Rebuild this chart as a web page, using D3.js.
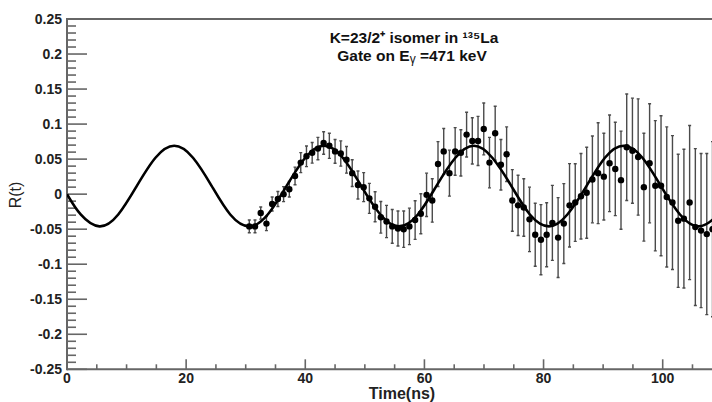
<!DOCTYPE html>
<html><head><meta charset="utf-8">
<script src="https://cdn.jsdelivr.net/npm/d3@7"></script>
<style>
html,body{margin:0;padding:0;background:#fff;}
svg{display:block;}
text{font-family:"Liberation Sans",Arial,sans-serif;}
</style></head>
<body>
<svg id="c" width="712" height="402"></svg>
<script>
// ---- data ----
const times = [30.60,31.56,32.52,33.48,34.44,35.40,36.36,37.32,38.28,39.24,40.20,41.16,42.12,43.08,44.04,45.00,45.96,46.92,47.88,48.84,49.80,50.76,51.72,52.68,53.64,54.60,55.56,56.52,57.48,58.44,59.40,60.36,61.32,62.28,63.24,64.20,65.16,66.12,67.08,68.04,69.00,69.96,70.92,71.88,72.84,73.80,74.76,75.72,76.68,77.64,78.60,79.56,80.52,81.48,82.44,83.40,84.36,85.32,86.28,87.24,88.20,89.16,90.12,91.08,92.04,93.00,93.96,94.92,95.88,96.84,97.80,98.76,99.72,100.68,101.64,102.60,103.56,104.52,105.48,106.44,107.40,108.36];
const values = [-0.046,-0.046,-0.027,-0.042,-0.014,-0.007,0.000,0.007,0.026,0.045,0.054,0.059,0.065,0.073,0.069,0.061,0.058,0.049,0.030,0.013,0.010,-0.006,-0.018,-0.033,-0.039,-0.046,-0.049,
 -0.050,-0.046,-0.037,-0.028,-0.001,-0.009,0.043,0.061,0.030,0.061,0.059,0.085,0.076,0.076,0.093,0.045,0.087,0.042,0.057,-0.009,-0.016,-0.019,-0.036,-0.058,
 -0.065,-0.058,-0.041,-0.062,-0.042,-0.016,-0.012,-0.003,0.002,0.021,0.030,0.025,0.044,0.036,0.020,0.067,0.062,0.053,0.010,0.044,0.012,0.012,-0.004,-0.012,-0.038,-0.035,-0.012,-0.047,-0.052,-0.057,-0.050];
const errors = [0.009,0.009,0.0086,0.010,0.010,0.0107,0.0107,0.011,0.0126,0.0143,0.0147,0.0147,0.016,0.016,0.018,0.017,0.018,0.019,0.019,0.020,0.0207,0.0214,0.0214,0.0226,0.023,0.024,0.025,
 0.026,0.026,0.0276,0.0285,0.031,0.031,0.032,0.0326,0.0328,0.034,0.033,0.032,0.033,0.035,0.037,0.036,0.0385,0.036,0.039,0.044,0.043,0.041,0.046,0.045,
 0.050,0.0457,0.0535,0.057,0.057,0.0595,0.0554,0.061,0.065,0.062,0.072,0.062,0.069,0.0666,0.070,0.076,0.075,0.083,0.077,0.085,0.093,0.100,0.100,0.0956,0.095,0.099,0.110,0.112,0.110,0.115,0.125];
// fitted curve
const fitT = [0,2.3,5.45,8.6,11.7,14.85,18.0,21.15,24.3,27.4,30.6,33.7,36.85,40.0,43.15,46.3,49.4,52.6,55.7,58.9,62.0,65.2,68.3,71.4,74.6,77.7,80.9,84.0,87.2,90.3,93.45,96.6,99.7,102.9,106.0,109.2,112.3,115.5,118.6];
const fitR = [0.000,-0.029,-0.046,-0.029,0.0115,0.052,0.069,0.052,0.0115,-0.029,-0.046,-0.029,0.0115,0.052,0.069,0.052,0.0115,-0.029,-0.046,-0.029,0.0115,0.052,0.069,0.052,0.0115,-0.029,-0.046,-0.029,0.0115,0.052,0.069,0.052,0.0115,-0.029,-0.046,-0.029,0.0115,0.052,0.069];
const xMajor = [0,20,40,60,80,100];
const yMajor = [-0.25,-0.2,-0.15,-0.1,-0.05,0,0.05,0.1,0.15,0.2,0.25];
const yLabels = ["-0.25","-0.2","-0.15","-0.1","-0.05","0","0.05","0.1","0.15","0.2","0.25"];
const titleLine1 = "K=23/2\u207A  isomer in \u00B9\u00B3\u2075La";

// ---- drawing ----
const svg = d3.select("#c");
const x = d3.scaleLinear().domain([0,100]).range([67,662.7]);
const y = d3.scaleLinear().domain([-0.25,0.25]).range([369.3,19]);
const axisCol = "#666";

svg.append("defs").append("clipPath").attr("id","clip")
  .append("rect").attr("x",67).attr("y",19).attr("width",712-67+10).attr("height",350.3);

// x minor / major ticks (pointing up into plot)
const xMinor = d3.range(0,121,5);
svg.append("g").selectAll("line").data(xMinor).join("line")
  .attr("x1",d=>x(d)).attr("x2",d=>x(d))
  .attr("y1",y(-0.25)).attr("y2",d=> y(-0.25) - (d%20===0?10:5))
  .attr("stroke",axisCol).attr("stroke-width",1.6);
// y ticks
const yMinor = d3.range(-25,26,1).map(v=>v/100);
svg.append("g").selectAll("line").data(yMinor).join("line")
  .attr("x1",x(0)).attr("x2",(d,i)=> x(0) + (i%5===0?20:9))
  .attr("y1",d=>y(d)).attr("y2",d=>y(d))
  .attr("stroke",axisCol).attr("stroke-width",1.6);

// frame lines
svg.append("line").attr("x1",x(0)).attr("x2",712).attr("y1",y(-0.25)).attr("y2",y(-0.25)).attr("stroke",axisCol).attr("stroke-width",2);
svg.append("line").attr("x1",x(0)).attr("x2",712).attr("y1",y(0.25)).attr("y2",y(0.25)).attr("stroke",axisCol).attr("stroke-width",2.2);
svg.append("line").attr("x1",x(0)).attr("x2",x(0)).attr("y1",y(0.25)-1).attr("y2",y(-0.25)+1).attr("stroke",axisCol).attr("stroke-width",2);

// tick labels
svg.append("g").selectAll("text").data(yMajor).join("text")
  .attr("x",62).attr("y",d=>y(d)+5).attr("text-anchor","end")
  .attr("font-size",14).attr("font-weight","bold").attr("fill","#222")
  .text((d,i)=>yLabels[i]);
svg.append("g").selectAll("text").data(xMajor).join("text")
  .attr("x",d=>x(d)).attr("y",383).attr("text-anchor","middle")
  .attr("font-size",14).attr("font-weight","bold").attr("fill","#222")
  .text(d=>d);

// axis titles
svg.append("text").attr("x",402).attr("y",399).attr("text-anchor","middle")
  .attr("font-size",16).attr("font-weight","bold").attr("fill","#222").text("Time(ns)");
svg.append("text").attr("transform","translate(21,195) rotate(-90)").attr("text-anchor","middle")
  .attr("font-size",16).attr("fill","#222").text("R(t)");

// plot title
svg.append("text").attr("x",414).attr("y",43).attr("text-anchor","middle")
  .attr("font-size",15.5).attr("font-weight","bold").attr("fill","#111").text(titleLine1);
const t2 = svg.append("text").attr("x",412).attr("y",61).attr("text-anchor","middle")
  .attr("font-size",15.5).attr("font-weight","bold").attr("fill","#111");
t2.append("tspan").text("Gate on E");
t2.append("tspan").attr("font-size",12).attr("dy",2).attr("font-weight","normal").text("γ");
t2.append("tspan").attr("dy",-2).text(" =471 keV");

// plot content
const plot = svg.append("g").attr("clip-path","url(#clip)");
const pts = times.map((t,i)=>({t, v:values[i], e:errors[i]}));
const eb = plot.append("g").attr("stroke","#4a4a4a").attr("stroke-width",1.4);
eb.selectAll("line.v").data(pts).join("line").attr("class","v")
  .attr("x1",d=>x(d.t)).attr("x2",d=>x(d.t)).attr("y1",d=>y(d.v-d.e)).attr("y2",d=>y(d.v+d.e));
eb.selectAll("line.ct").data(pts).join("line").attr("class","ct")
  .attr("x1",d=>x(d.t)-1.5).attr("x2",d=>x(d.t)+1.5).attr("y1",d=>y(d.v+d.e)).attr("y2",d=>y(d.v+d.e));
eb.selectAll("line.cb").data(pts).join("line").attr("class","cb")
  .attr("x1",d=>x(d.t)-1.5).attr("x2",d=>x(d.t)+1.5).attr("y1",d=>y(d.v-d.e)).attr("y2",d=>y(d.v-d.e));

const line = d3.line().x((d,i)=>x(fitT[i])).y(d=>y(d)).curve(d3.curveNatural);
plot.append("path").attr("d",line(fitR)).attr("fill","none").attr("stroke","#000").attr("stroke-width",2.6);

plot.append("g").selectAll("circle").data(pts).join("circle")
  .attr("cx",d=>x(d.t)).attr("cy",d=>y(d.v)).attr("r",3.2).attr("fill","#000");
</script>
</body></html>
